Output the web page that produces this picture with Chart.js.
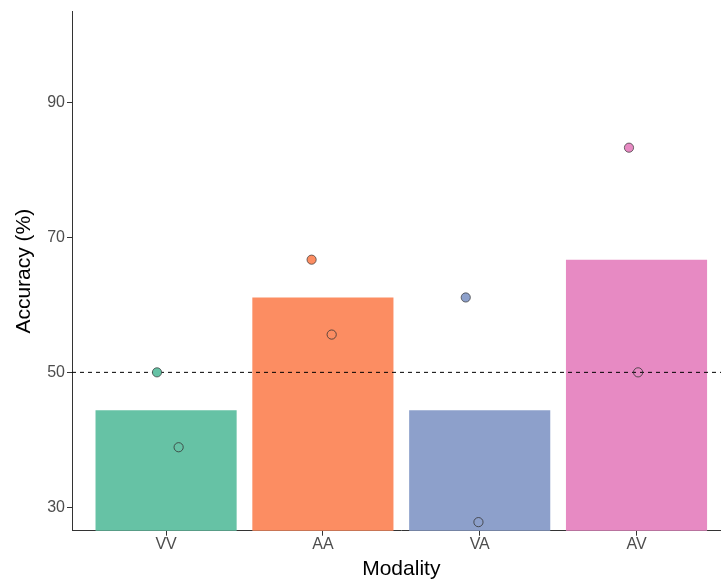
<!DOCTYPE html>
<html lang="en">

<head>
    <meta charset="UTF-8" />
    <title>Accuracy by modality</title>
    <script src="https://cdn.jsdelivr.net/npm/chart.js"></script>
    <style>
        html,
        body {
            margin: 0;
            padding: 0;
            background: #ffffff;
            overflow: hidden;
        }

        #wrap {
            width: 721px;
            height: 584px;
            overflow: hidden;
        }
    </style>
</head>

<body>
    <div id="wrap">
        <canvas id="accChart" width="736" height="584"></canvas>
    </div>

    <script>
        // data
        const modalities = ['VV', 'AA', 'VA', 'AV'];
        const meanAccuracy = [44.4, 61.1, 44.4, 66.7];
        const filledPoints = [50.0, 66.7, 61.1, 83.3];
        const hollowPoints = [38.9, 55.6, 27.8, 50.0];
        // horizontal jitter of the points (in category units)
        const filledJitter = [-0.058, -0.072, -0.089, -0.048];
        const hollowJitter = [0.080, 0.056, -0.008, 0.010];
        const chanceLevel = 50;
        const yTicks = [30, 50, 70, 90];

        const barColors = ['#66C2A5', '#FC8D62', '#8DA0CB', '#E78AC3'];
        const xMin = 0.4, xMax = 4.6;

        const barData = modalities.map((m, i) => ({ x: i + 1, y: meanAccuracy[i] }));
        const filledData = modalities.map((m, i) => ({ x: i + 1 + filledJitter[i], y: filledPoints[i] }));
        const hollowData = modalities.map((m, i) => ({ x: i + 1 + hollowJitter[i], y: hollowPoints[i] }));

        const tickFont = { family: '"Liberation Sans", Arial, sans-serif', size: 16 };
        const titleFont = { family: '"Liberation Sans", Arial, sans-serif', size: 21 };

        new Chart(document.getElementById('accChart'), {
            type: 'bar',
            data: {
                datasets: [
                    {
                        type: 'bar',
                        data: barData,
                        backgroundColor: barColors,
                        borderWidth: 0,
                        barPercentage: 0.9,
                        categoryPercentage: 1,
                        order: 3
                    },
                    {
                        type: 'line',
                        data: [{ x: xMin, y: chanceLevel }, { x: xMax, y: chanceLevel }],
                        borderColor: '#000000',
                        borderWidth: 1,
                        borderDash: [4, 4],
                        pointRadius: 0,
                        fill: false,
                        order: 2
                    },
                    {
                        type: 'scatter',
                        data: filledData,
                        backgroundColor: barColors,
                        borderColor: '#333333',
                        borderWidth: 0.7,
                        pointRadius: 4.6,
                        order: 1
                    },
                    {
                        type: 'scatter',
                        data: hollowData,
                        backgroundColor: 'rgba(0,0,0,0)',
                        borderColor: '#333333',
                        borderWidth: 0.8,
                        pointRadius: 4.6,
                        order: 0
                    }
                ]
            },
            options: {
                responsive: false,
                animation: false,
                layout: { padding: { top: 10, right: 1, left: 0, bottom: 0 } },
                plugins: {
                    legend: { display: false },
                    tooltip: { enabled: false }
                },
                scales: {
                    x: {
                        type: 'linear',
                        min: xMin,
                        max: xMax,
                        offset: false,
                        afterBuildTicks: axis => {
                            axis.ticks = modalities.map((m, i) => ({ value: i + 1 }));
                        },
                        afterFit: axis => { axis.height = 53.3; },
                        ticks: {
                            callback: v => modalities[v - 1],
                            color: '#4D4D4D',
                            font: tickFont,
                            padding: -1,
                            maxRotation: 0,
                            autoSkip: false
                        },
                        grid: {
                            offset: false,
                            drawOnChartArea: false,
                            drawTicks: true,
                            tickLength: 5,
                            color: '#333333'
                        },
                        border: { display: true, color: '#333333', width: 1 },
                        title: {
                            display: true,
                            text: 'Modality',
                            color: '#000000',
                            font: titleFont,
                            padding: { top: 0, bottom: 2 }
                        }
                    },
                    y: {
                        min: 26.53,
                        max: 103.47,
                        afterBuildTicks: axis => {
                            axis.ticks = yTicks.map(v => ({ value: v }));
                        },
                        afterFit: axis => { axis.width = 72; },
                        ticks: {
                            color: '#4D4D4D',
                            font: tickFont,
                            padding: 2
                        },
                        grid: {
                            drawOnChartArea: false,
                            drawTicks: true,
                            tickLength: 5,
                            color: '#333333'
                        },
                        border: { display: true, color: '#333333', width: 1 },
                        title: {
                            display: true,
                            text: 'Accuracy (%)',
                            color: '#000000',
                            font: titleFont,
                            padding: { top: 12, bottom: 0 }
                        }
                    }
                }
            }
        });
    </script>
</body>

</html>
